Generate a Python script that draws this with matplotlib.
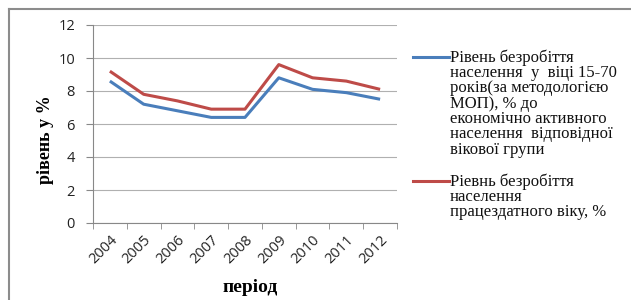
import matplotlib.pyplot as plt
from matplotlib.lines import Line2D

years = ['2004', '2005', '2006', '2007', '2008', '2009', '2010', '2011', '2012']
rate_15_70 = [8.6, 7.2, 6.8, 6.4, 6.4, 8.8, 8.1, 7.9, 7.5]
rate_working_age = [9.2, 7.8, 7.4, 6.9, 6.9, 9.6, 8.8, 8.6, 8.1]

label_15_70 = ('Рівень безробіття\nнаселення  у  віці 15-70\nроків(за методологією\n'
               'МОП), % до\nекономічно активного\nнаселення  відповідної\nвікової групи')
label_working = 'Ріевнь безробіття\nнаселення\nпрацездатного віку, %'

W, H = 631, 300
fig = plt.figure(figsize=(W / 100, H / 100), dpi=100)
ax = fig.add_axes([93 / W, 1 - 223 / H, (397 - 93) / W, (223 - 25) / H])

blue = '#4A7EBB'
red = '#BE4B48'
x = range(len(years))
ax.plot(x, rate_15_70, color=blue, lw=2.2, solid_capstyle='butt')
ax.plot(x, rate_working_age, color=red, lw=2.2, solid_capstyle='butt')

ax.set_xlim(-0.5, len(years) - 0.5)
ax.set_ylim(0, 12)
ax.set_yticks(range(0, 13, 2))
ax.set_xticks(list(x))
ax.set_xticks([i - 0.5 for i in range(len(years) + 1)], minor=True)
ax.set_xticklabels(years, rotation=45, ha='right', rotation_mode='anchor',
                   fontsize=10.5, family='Open Sans', color='#222222')
ax.tick_params(axis='x', which='major', length=0, pad=7)
ax.tick_params(axis='x', which='minor', length=4, color='#888888')
ax.tick_params(axis='y', length=5, color='#888888', labelsize=10.5, labelcolor='#222222', pad=8)
for t in ax.get_yticklabels():
    t.set_family('Open Sans')
ax.grid(axis='y', color='#B0B0B0', lw=0.8)
ax.set_axisbelow(True)
for s in ['top', 'right']:
    ax.spines[s].set_visible(False)
for s in ['left', 'bottom']:
    ax.spines[s].set_color('#888888')
    ax.spines[s].set_linewidth(0.8)

ax.set_ylabel('рівень у %', family='Liberation Serif', fontweight='bold', fontsize=13)
ax.yaxis.set_label_coords(-0.128, 0.42)
fig.text(250 / W, 1 - 287 / H, 'період', family='Liberation Serif', fontweight='bold',
         fontsize=14, ha='center', va='center')

# legend drawn by hand so the line sits at the first text line
for y0, col, lab in [(57, blue, label_15_70), (181, red, label_working)]:
    fig.add_artist(Line2D([413 / W, 449 / W], [1 - y0 / H, 1 - y0 / H], color=col, lw=2.2))
    fig.text(450 / W, 1 - (y0 - 8) / H, lab, family='Liberation Serif', fontsize=12,
             va='top', ha='left', linespacing=0.95, color='#111111')

# outer frame (left and top edges visible)
fig.add_artist(Line2D([8.5 / W, 8.5 / W], [0, 1 - 9 / H], color='#8C8C8C', lw=1.5))
fig.add_artist(Line2D([8.5 / W, 1], [1 - 9 / H, 1 - 9 / H], color='#8C8C8C', lw=1.5))

fig.savefig('out.png', dpi=100)
